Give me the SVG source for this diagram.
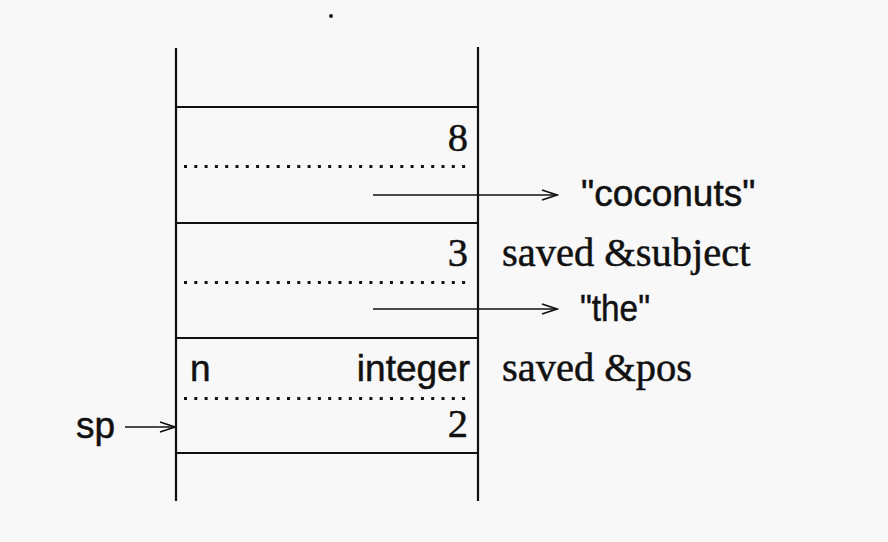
<svg xmlns="http://www.w3.org/2000/svg" width="888" height="542" viewBox="0 0 888 542">
<defs>
<style>
.frame{stroke:#111;stroke-width:2.2;fill:none}
.dots{stroke:#111;stroke-width:3;stroke-dasharray:3 7.3;fill:none}
.conn{stroke:#111;stroke-width:1.7;fill:none}
.serif{font-family:"Liberation Serif","Times New Roman",serif;font-size:40.5px;fill:#111;stroke:#111;stroke-width:0.5}
.sans{font-family:"Liberation Sans",Arial,sans-serif;font-size:37px;fill:#111;stroke:#111;stroke-width:0.5}
</style>
<marker id="ah" markerWidth="18" markerHeight="12" refX="16" refY="6" orient="auto" markerUnits="userSpaceOnUse">
<path d="M1,1 L16,6 L1,11" fill="none" stroke="#111" stroke-width="1.7"/>
</marker>
</defs>
<rect width="888" height="542" fill="#f8f8f8"/>
<circle cx="331" cy="16" r="2" fill="#222"/>
<g id="stack">
<line class="frame" x1="176" y1="48" x2="176" y2="501"/>
<line class="frame" x1="478" y1="47" x2="478" y2="501"/>
<line class="frame" x1="176" y1="107" x2="478" y2="107"/>
<line class="frame" x1="176" y1="223" x2="478" y2="223"/>
<line class="frame" x1="176" y1="338" x2="478" y2="338"/>
<line class="frame" x1="176" y1="453" x2="478" y2="453"/>
</g>
<g id="cell1">
<text class="serif" x="468" y="151" text-anchor="end">8</text>
<line class="dots" x1="184" y1="166.5" x2="472" y2="166.5"/>
</g>
<g id="cell2">
<text class="serif" x="468" y="266" text-anchor="end">3</text>
<line class="dots" x1="184" y1="282.5" x2="472" y2="282.5"/>
</g>
<g id="cell3">
<text class="sans" x="190" y="381">n</text>
<text class="sans" x="470" y="381" text-anchor="end">integer</text>
<line class="dots" x1="184" y1="398.5" x2="472" y2="398.5"/>
<text class="serif" x="468" y="437" text-anchor="end">2</text>
</g>
<g id="label-coconuts"><text class="sans" x="581" y="206">"coconuts"</text></g>
<g id="label-subject"><text class="serif" x="502" y="266">saved &amp;subject</text></g>
<g id="label-the"><text class="sans" x="580" y="321" textLength="70" lengthAdjust="spacingAndGlyphs">"the"</text></g>
<g id="label-pos"><text class="serif" x="502" y="381">saved &amp;pos</text></g>
<g id="label-sp"><text class="sans" x="76" y="438">sp</text></g>
<g id="connectors">
<line class="conn" x1="373" y1="195" x2="557" y2="195" marker-end="url(#ah)"/>
<line class="conn" x1="373" y1="309" x2="557" y2="309" marker-end="url(#ah)"/>
<line class="conn" x1="125" y1="427" x2="175" y2="427" marker-end="url(#ah)"/>
</g>
</svg>
